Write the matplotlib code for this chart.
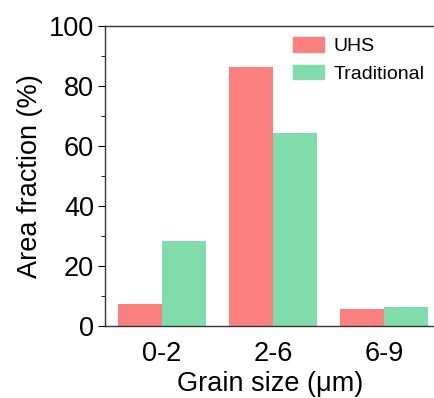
import matplotlib.pyplot as plt
import numpy as np
from matplotlib.patches import Patch

plt.rcParams['font.family'] = ['Liberation Sans', 'DejaVu Sans']

# data
categories = ['0-2', '2-6', '6-9']
uhs = [7.5, 86.4, 5.6]
traditional = [28.4, 64.4, 6.4]

UHS_COLOR = '#FA8080'
TRAD_COLOR = '#80DCAA'

fig = plt.figure(figsize=(4.35, 3.98), dpi=100)
ax = fig.add_axes([105 / 435, 1 - 326 / 398, 1 - 105 / 435, 300 / 398])

x = np.arange(len(categories))
w = 0.4
ax.bar(x - w / 2, uhs, width=w, color=UHS_COLOR, label='UHS')
ax.bar(x + w / 2, traditional, width=w, color=TRAD_COLOR, label='Traditional')

ax.set_xlim(-0.513, 2.46)
ax.set_ylim(0, 100)
ax.set_yticks([0, 20, 40, 60, 80, 100])
ax.set_yticks([10, 30, 50, 70, 90], minor=True)
ax.set_xticks(x)
ax.set_xticklabels(categories)
ax.tick_params(axis='y', which='major', direction='out', length=5, labelsize=19.5, pad=3)
ax.tick_params(axis='y', which='minor', direction='out', length=3)
ax.tick_params(axis='x', length=0, labelsize=19.5, pad=11)

ax.spines['right'].set_visible(False)
for s in ['left', 'bottom', 'top']:
    ax.spines[s].set_linewidth(1.0)
    ax.spines[s].set_color('#333333')

ax.set_xlabel('Grain size (μm)', fontsize=19.5, labelpad=3)
ax.set_ylabel('Area fraction (%)', fontsize=19.5, labelpad=4)

handles = [Patch(color=UHS_COLOR, label='UHS'), Patch(color=TRAD_COLOR, label='Traditional')]
ax.legend(handles=handles, loc='upper right', frameon=False, fontsize=14,
          handlelength=1.55, handleheight=0.8, handletextpad=0.5,
          bbox_to_anchor=(1.0, 1.0), borderaxespad=0.15, labelspacing=0.5)

plt.savefig('out.png', dpi=100)
